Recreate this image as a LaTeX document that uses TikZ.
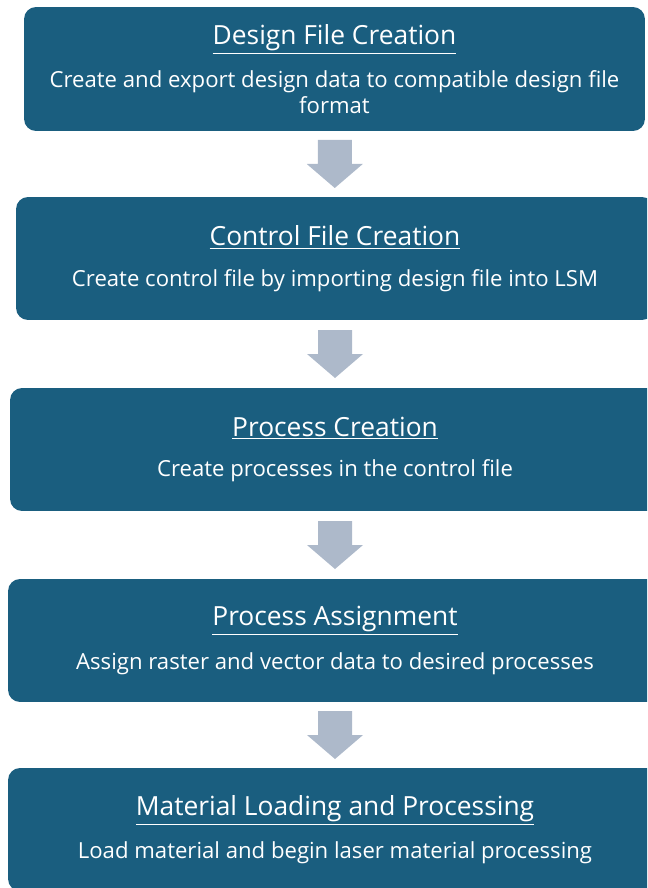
\documentclass[tikz,border=0pt]{standalone}
\usepackage{fontspec}
\setmainfont{Open Sans}
\usetikzlibrary{positioning,calc}
\definecolor{stepblue}{HTML}{1A5E7F}
\definecolor{arrowgray}{HTML}{ADB9CA}

\newcommand{\steptitle}[1]{{\fontsize{15}{18}\selectfont\underline{#1}}\\[8.5pt]}
\newcommand{\flowarrow}[2]{%
  \fill[arrowgray] ($(#1.south)!0.5!(#2.north)$) ++(-17,-24) -- ++(34,0) -- ++(0,24)
    -- ++(11,0) -- ++(-28,24) -- ++(-28,-24) -- ++(11,0) -- cycle;}

\begin{document}
\begin{tikzpicture}[x=0.02cm,y=-0.02cm,
  stepbox/.style={fill=stepblue,rounded corners=0.24cm,text=white,align=center,
    inner sep=0pt,font=\fontsize{12.6}{14.7}\selectfont}]
  \useasboundingbox (0,0) rectangle (647,888);
  \clip (0,0) rectangle (647,888);

  \node[stepbox,minimum width=12.42cm,minimum height=2.48cm] (design) at (334.5,69)
    {\steptitle{Design File Creation}Create and export design data to compatible design file\\format};
  \node[stepbox,minimum width=12.76cm,minimum height=2.46cm] (control) at (335,258.5)
    {\steptitle{Control File Creation}Create control file by importing design file into LSM};
  \node[stepbox,minimum width=13cm,minimum height=2.46cm] (process) at (335,449.5)
    {\steptitle{Process Creation}Create processes in the control file};
  \node[stepbox,minimum width=13.08cm,minimum height=2.46cm] (assign) at (335,640.5)
    {\steptitle{Process Assignment}Assign raster and vector data to desired processes};
  \node[stepbox,minimum width=13.08cm,minimum height=2.46cm] (material) at (335,829.5)
    {\steptitle{Material Loading and Processing}Load material and begin laser material processing};

  \flowarrow{design}{control}
  \flowarrow{control}{process}
  \flowarrow{process}{assign}
  \flowarrow{assign}{material}
\end{tikzpicture}
\end{document}
